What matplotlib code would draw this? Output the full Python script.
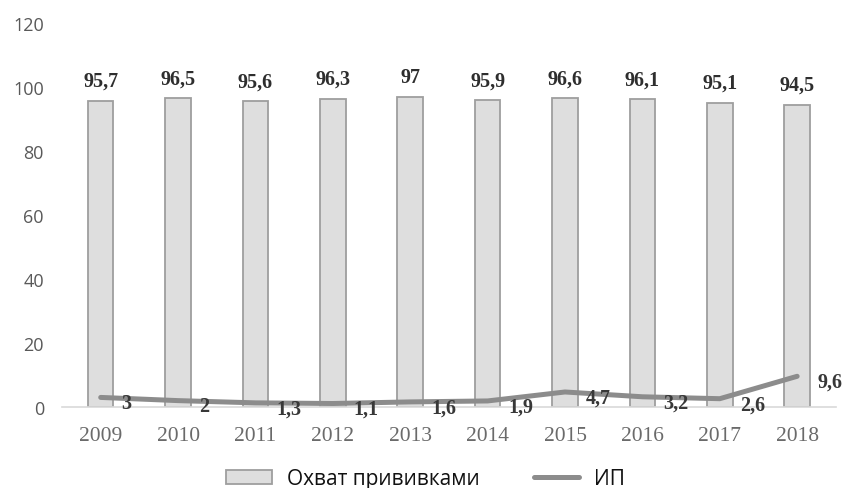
import matplotlib.pyplot as plt

years = ["2009", "2010", "2011", "2012", "2013", "2014", "2015", "2016", "2017", "2018"]
coverage = [95.7, 96.5, 95.6, 96.3, 97, 95.9, 96.6, 96.1, 95.1, 94.5]
ip = [3, 2, 1.3, 1.1, 1.6, 1.9, 4.7, 3.2, 2.6, 9.6]
yticks = [0, 20, 40, 60, 80, 100, 120]


def fmt(v):
    # decimal comma, no trailing ",0"
    s = ("%g" % v).replace(".", ",")
    return s


fig = plt.figure(figsize=(8.46, 4.89), dpi=100)
ax = fig.add_axes([0.0733, 0.1656, 0.9147, 0.7854])

x = range(len(years))
bars = ax.bar(x, coverage, width=0.33, color="#dedede", edgecolor="#9e9e9e",
              linewidth=1.3, label="Охват прививками", zorder=2)
line, = ax.plot(x, ip, color="#8c8c8c", linewidth=3.6, solid_capstyle="round",
                label="ИП", zorder=3)

for i, v in enumerate(coverage):
    ax.annotate(fmt(v), (i, v), xytext=(0, 7), textcoords="offset points",
                ha="center", va="bottom", fontsize=14.5, fontweight="bold",
                family="Liberation Serif", color="#2e2e2e")

for i, v in enumerate(ip):
    ax.annotate(fmt(v), (i, v), xytext=(15, -4), textcoords="offset points",
                ha="left", va="center", fontsize=14.5, fontweight="bold",
                family="Liberation Serif", color="#383838", zorder=4)

ax.set_xlim(-0.5, len(years) - 0.5)
ax.set_ylim(0, 120)
ax.set_yticks(yticks)
ax.set_yticklabels([str(t) for t in yticks], family="Open Sans", fontsize=13,
                   color="#595959")
ax.set_xticks(list(x))
ax.set_xticklabels(years, family="Liberation Serif", fontsize=15.5, color="#6a6a6a")
ax.tick_params(length=0)
ax.tick_params(axis="y", pad=13)
ax.tick_params(axis="x", pad=14)

for side in ["top", "right", "left"]:
    ax.spines[side].set_visible(False)
ax.spines["bottom"].set_color("#d9d9d9")
ax.spines["bottom"].set_linewidth(1.2)

fig.legend(handles=[bars, line], loc="center", bbox_to_anchor=(0.503, 0.019),
           ncol=2, frameon=False,
           prop={"family": "Open Sans", "size": 15},
           labelcolor="#111111",
           handlelength=2.2, handleheight=0.7, handletextpad=0.72,
           columnspacing=2.6)

fig.savefig("out.png", dpi=100)
